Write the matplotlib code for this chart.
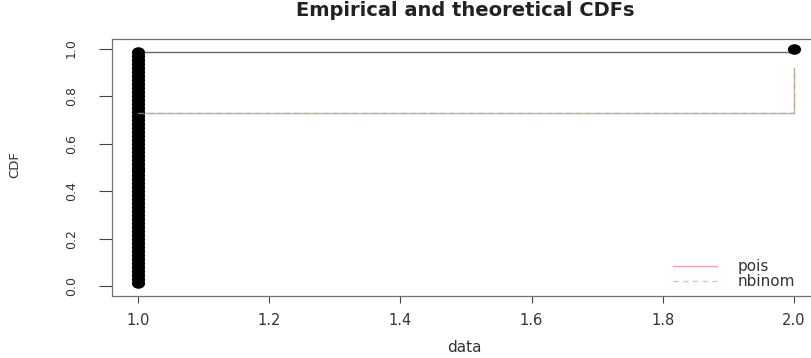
import numpy as np
import matplotlib
matplotlib.use("Agg")
import matplotlib.pyplot as plt
from matplotlib.lines import Line2D
from matplotlib.path import Path
from matplotlib.transforms import Affine2D

# observed data: value -> count
obs_values = [1, 2]
obs_counts = [59, 1]

# fitted CDFs at x = 1, 2
fit_x = [1, 2]
pois_cdf = [0.73, 0.92]
nbinom_cdf = [0.73, 0.92]

x_ticks = [1.0, 1.2, 1.4, 1.6, 1.8, 2.0]
x_labels = ["1.0", "1.2", "1.4", "1.6", "1.8", "2.0"]
y_ticks = [0.0, 0.2, 0.4, 0.6, 0.8, 1.0]
y_labels = ["0.0", "0.2", "0.4", "0.6", "0.8", "1.0"]

data = np.sort(np.repeat(obs_values, obs_counts))
ecdf = np.arange(1, len(data) + 1) / len(data)

pois_col = "#DF536B"
nbinom_col = "#61D04F"

# the original looks horizontally stretched, so use a wide dot
wide_dot = Path.unit_circle().transformed(Affine2D().scale(1.25, 1.0))

plt.rcParams["font.family"] = "DejaVu Sans"

fig = plt.figure(figsize=(8.12, 3.58), dpi=100)
ax = fig.add_axes([112 / 812, 62 / 358, 708 / 812, 257 / 358])

ax.step(data, ecdf, where="post", color="0.4", lw=1)
ax.plot(data, ecdf, ls="none", marker=wide_dot, color="black", ms=9.5,
        mec="none")

ax.step(fit_x, pois_cdf, where="post", color=pois_col, lw=1, alpha=0.55)
ax.step(fit_x, nbinom_cdf, where="post", color=nbinom_col, lw=1, alpha=0.55,
        ls=(0, (4, 3)))

ax.set_xlim(0.96, 2.04)
ax.set_ylim(-0.04, 1.04)
ax.set_xticks(x_ticks)
ax.set_xticklabels(x_labels, fontsize=10.5, color="#333333")
ax.set_yticks(y_ticks)
ax.set_yticklabels(y_labels, fontsize=9, rotation=90, va="center",
                   color="#333333")
ax.tick_params(axis="x", length=5, width=0.8, pad=7, color="#444444")
ax.tick_params(axis="y", length=9.4, width=0.8, pad=15, color="#444444")
for s in ax.spines.values():
    s.set_color("0.45")
    s.set_linewidth(0.9)

fig.text(465 / 812, 1 - 10 / 358, "Empirical and theoretical CDFs",
         ha="center", va="center", fontsize=14, fontweight="bold",
         color="#222222")
fig.text(464 / 812, 1 - 347 / 358, "data", ha="center", va="center",
         fontsize=11, color="#333333")
fig.text(15 / 812, 1 - 165 / 358, "CDF", ha="center", va="center",
         rotation=90, fontsize=9.5, color="#333333")

handles = [Line2D([], [], color=pois_col, lw=1, alpha=0.55),
           Line2D([], [], color=nbinom_col, lw=1, alpha=0.55, ls=(0, (4, 3)))]
fig.legend(handles, ["pois", "nbinom"], loc="center left",
           bbox_to_anchor=(673 / 812, 1 - 274.5 / 358), frameon=False,
           fontsize=11, handlelength=2.9, handletextpad=1.3, labelspacing=0.0,
           borderpad=0, borderaxespad=0, labelcolor="#333333")

fig.savefig("out.png", dpi=100)
